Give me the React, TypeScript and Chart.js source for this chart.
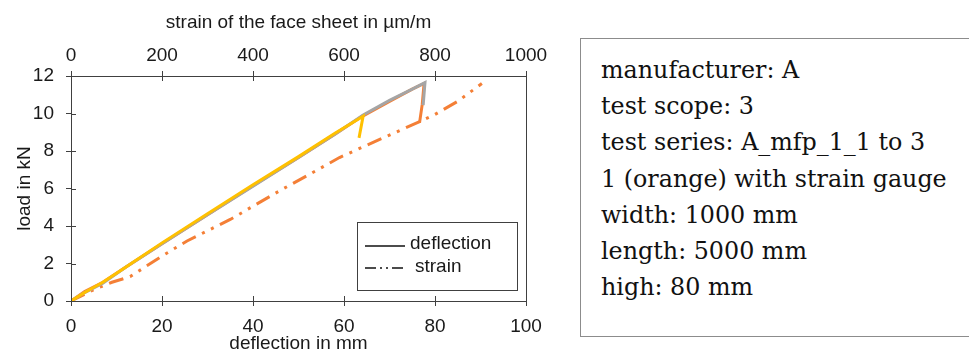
import React, { useEffect, useRef } from 'react';
import { Chart, registerables } from 'chart.js';

Chart.register(...registerables);

// ---- data ----
const deflectionTicks = [0, 20, 40, 60, 80, 100];
const strainTicks = [0, 200, 400, 600, 800, 1000];
const loadTicks = [0, 2, 4, 6, 8, 10, 12];

// specimen 1 (orange) – deflection in mm / load in kN
const defl1X = [0, 3, 7, 12, 20, 30, 40, 50, 58, 64, 70, 75, 77.6, 77.2, 76.6];
const defl1Y = [0, 0.5, 1.0, 1.8, 3.05, 4.6, 6.15, 7.65, 8.9, 9.85, 10.65, 11.3, 11.6, 10.5, 9.5];
// specimen 2 (grey)
const defl2X = [0, 3, 7, 12, 20, 30, 40, 50, 58, 64.2, 70, 75, 77.8, 77.4];
const defl2Y = [0, 0.45, 0.95, 1.8, 3.05, 4.6, 6.12, 7.65, 8.9, 9.92, 10.7, 11.3, 11.65, 10.45];
// specimen 3 (yellow)
const defl3X = [0, 3, 7, 12, 20, 30, 40, 50, 58, 64.2, 63.3];
const defl3Y = [0, 0.45, 1.0, 1.8, 3.1, 4.65, 6.2, 7.7, 8.95, 9.85, 8.7];
// specimen 1 strain (µm/m) / load in kN
const strainX = [0, 50, 90, 130, 200, 255, 350, 460, 520, 590, 640, 700, 765, 800, 850, 903];
const strainY = [0, 0.6, 1.0, 1.3, 2.4, 3.2, 4.35, 5.9, 6.7, 7.65, 8.2, 8.85, 9.55, 9.95, 10.65, 11.6];

const infoLines = [
  'manufacturer: A',
  'test scope: 3',
  'test series: A_mfp_1_1 to 3',
  '1 (orange) with strain gauge',
  'width: 1000 mm',
  'length: 5000 mm',
  'high: 80 mm',
];

const ORANGE = '#F47F36';
const GREY = '#A5A5A5';
const YELLOW = '#FFC000';
const AXIS = '#404040';
const TEXT = '#1a1a1a';
const SANS = "'Liberation Sans', Arial, sans-serif";

const pts = (xs: number[], ys: number[]) => xs.map((x, i) => ({ x, y: ys[i] }));

const setTicks = (vals: number[]) => (scale: any) => {
  scale.ticks = vals.map((v) => ({ value: v }));
};
const plainLabel = (v: any) => String(v);

const framePlugin = {
  id: 'frameAndLegend',
  afterDraw(chart: any) {
    const { ctx, chartArea: a, scales } = chart;
    const r = (v: number) => Math.round(v) + 0.5;
    ctx.save();
    ctx.strokeStyle = AXIS;
    ctx.lineWidth = 1;
    ctx.setLineDash([]);
    ctx.beginPath();
    ctx.moveTo(r(a.right), a.top);
    ctx.lineTo(r(a.right), a.bottom);
    loadTicks.forEach((v) => {
      const y = r(scales.y.getPixelForValue(v));
      ctx.moveTo(a.left, y);
      ctx.lineTo(a.left + 5, y);
    });
    deflectionTicks.forEach((v) => {
      const x = r(scales.x.getPixelForValue(v));
      ctx.moveTo(x, a.bottom);
      ctx.lineTo(x, a.bottom - 5);
    });
    strainTicks.forEach((v) => {
      const x = r(scales.x2.getPixelForValue(v));
      ctx.moveTo(x, a.top);
      ctx.lineTo(x, a.top + 5);
    });
    ctx.stroke();

    // legend box
    const lx = a.right - 169;
    const ly = a.bottom - 79;
    const lw = 160;
    const lh = 68;
    ctx.fillStyle = '#ffffff';
    ctx.fillRect(lx, ly, lw, lh);
    ctx.strokeStyle = AXIS;
    ctx.strokeRect(Math.round(lx) + 0.5, Math.round(ly) + 0.5, lw, lh);

    ctx.strokeStyle = '#111';
    ctx.lineWidth = 1.5;
    ctx.beginPath();
    ctx.moveTo(lx + 8, ly + 24);
    ctx.lineTo(lx + 48, ly + 24);
    ctx.stroke();
    ctx.setLineDash([11, 4, 2, 4, 2, 4]);
    ctx.beginPath();
    ctx.moveTo(lx + 8, ly + 46);
    ctx.lineTo(lx + 46, ly + 46);
    ctx.stroke();
    ctx.setLineDash([]);

    ctx.fillStyle = TEXT;
    ctx.font = `19px ${SANS}`;
    ctx.textBaseline = 'middle';
    ctx.textAlign = 'left';
    ctx.fillText('deflection', lx + 53, ly + 22);
    ctx.fillText('strain', lx + 58, ly + 45);
    ctx.restore();
  },
};

export default function App() {
  const ref = useRef<HTMLCanvasElement | null>(null);

  useEffect(() => {
    if (!ref.current) return;
    const tickFont = { family: SANS, size: 19 };
    const chart = new Chart(ref.current, {
      type: 'line',
      data: {
        datasets: [
          {
            label: '3',
            data: pts(defl3X, defl3Y),
            borderColor: YELLOW,
            borderWidth: 3,
            pointRadius: 0,
            xAxisID: 'x',
            yAxisID: 'y',
          },
          {
            label: '2',
            data: pts(defl2X, defl2Y),
            borderColor: GREY,
            borderWidth: 3,
            pointRadius: 0,
            xAxisID: 'x',
            yAxisID: 'y',
          },
          {
            label: '1',
            data: pts(defl1X, defl1Y),
            borderColor: ORANGE,
            borderWidth: 3,
            pointRadius: 0,
            xAxisID: 'x',
            yAxisID: 'y',
          },
          {
            label: 'strain',
            data: pts(strainX, strainY),
            borderColor: ORANGE,
            borderWidth: 3,
            borderDash: [15, 7, 3, 7, 3, 7],
            pointRadius: 0,
            xAxisID: 'x2',
            yAxisID: 'y',
          },
        ],
      },
      options: {
        responsive: false,
        animation: false,
        events: [],
        layout: { padding: { left: 0, right: 34, top: 0, bottom: 0 } },
        plugins: { legend: { display: false }, tooltip: { enabled: false } },
        scales: {
          x: {
            type: 'linear',
            position: 'bottom',
            min: 0,
            max: 100,
            afterBuildTicks: setTicks(deflectionTicks),
            afterFit: (s: any) => {
              s.height = 54;
              s.paddingLeft = 0;
              s.paddingRight = 0;
            },
            grid: { drawOnChartArea: false, tickLength: 5, color: AXIS },
            border: { color: AXIS, width: 1 },
            ticks: { font: tickFont, color: TEXT, padding: 9, maxRotation: 0, callback: plainLabel },
            title: {
              display: true,
              text: 'deflection in mm',
              font: tickFont,
              color: TEXT,
              padding: { top: 0, bottom: 0 },
            },
          },
          x2: {
            type: 'linear',
            position: 'top',
            min: 0,
            max: 1000,
            afterBuildTicks: setTicks(strainTicks),
            afterFit: (s: any) => {
              s.height = 76;
              s.paddingLeft = 0;
              s.paddingRight = 0;
            },
            grid: { drawOnChartArea: false, tickLength: 5, color: AXIS },
            border: { color: AXIS, width: 1 },
            ticks: { font: tickFont, color: TEXT, padding: 4, maxRotation: 0, callback: plainLabel },
            title: {
              display: true,
              text: 'strain of the face sheet in µm/m',
              font: tickFont,
              color: TEXT,
              padding: { top: 11, bottom: 0 },
            },
          },
          y: {
            type: 'linear',
            position: 'left',
            min: 0,
            max: 12,
            afterBuildTicks: setTicks(loadTicks),
            afterFit: (s: any) => {
              s.width = 71;
              s.paddingTop = 0;
              s.paddingBottom = 0;
            },
            grid: { drawOnChartArea: false, tickLength: 5, color: AXIS },
            border: { color: AXIS, width: 1 },
            ticks: { font: tickFont, color: TEXT, padding: 12, callback: plainLabel },
            title: {
              display: true,
              text: 'load in kN',
              font: tickFont,
              color: TEXT,
              padding: { top: 13, bottom: 0 },
            },
          },
        },
      },
      plugins: [framePlugin],
    } as any);
    return () => chart.destroy();
  }, []);

  return (
    <div
      style={{
        position: 'fixed',
        left: 0,
        top: 0,
        width: 969,
        height: 355,
        background: '#ffffff',
        overflow: 'hidden',
      }}
    >
      <canvas
        ref={ref}
        width={560}
        height={355}
        style={{ position: 'absolute', left: 0, top: 0, width: 560, height: 355 }}
      />
      <div
        style={{
          position: 'absolute',
          left: 580,
          top: 38,
          width: 387,
          height: 284,
          border: '1px solid #8c8c8c',
          paddingLeft: 20,
          paddingTop: 13,
          boxSizing: 'content-box',
          fontFamily: "'DejaVu Serif', serif",
          fontSize: 23.8,
          lineHeight: '36.2px',
          color: '#111',
          whiteSpace: 'nowrap',
        }}
      >
        {infoLines.map((t, i) => (
          <div key={i}>{t}</div>
        ))}
      </div>
    </div>
  );
}
